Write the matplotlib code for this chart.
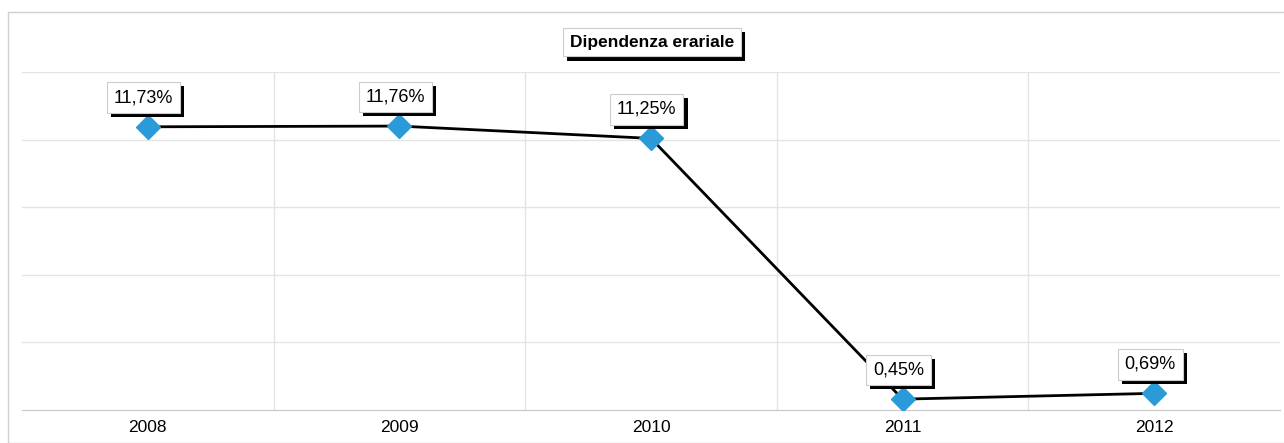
import numpy as np
import matplotlib.pyplot as plt
from matplotlib.patches import Rectangle
import matplotlib.patheffects as pe

plt.rcParams['font.family'] = ['Liberation Sans', 'DejaVu Sans']

anni = ["2008", "2009", "2010", "2011", "2012"]
valori = [11.73, 11.76, 11.25, 0.45, 0.69]
etichette = ["11,73%", "11,76%", "11,25%", "0,45%", "0,69%"]
titolo = "Dipendenza erariale"

fig = plt.figure(figsize=(12.84, 4.43), dpi=100)
# cornice esterna del grafico
fig.patches.append(Rectangle((8/1284, 0), 1.0, 1 - 12/443, transform=fig.transFigure,
                             fill=False, edgecolor="#d0d0d0", linewidth=1))

ax = fig.add_axes([22/1284, 1 - 410/443, 1258/1284, 338/443])
x = np.arange(len(anni))
ax.set_xlim(-0.5, len(anni) - 0.5)
ax.set_ylim(0, 14)

# griglia
for yy in np.arange(2.8, 14.01, 2.8):
    ax.axhline(yy, color="#e4e4e4", linewidth=1, zorder=0)
for xx in np.arange(0.5, len(anni) - 0.5, 1):
    ax.axvline(xx, color="#e4e4e4", linewidth=1, zorder=0)

ax.plot(x, valori, color="black", linewidth=2, zorder=2)
ax.plot(x, valori, linestyle="none", marker="D", markersize=12,
        color="#2a9ad8", markeredgecolor="#2a9ad8", zorder=3)

ombra = [pe.SimplePatchShadow(offset=(3, -3), shadow_rgbFace="black", alpha=1), pe.Normal()]

# etichette dei dati con ombra
for xi, v, lab in zip(x, valori, etichette):
    t = ax.annotate(lab, (xi, v), xytext=(-3, 21), textcoords="offset points",
                    ha="center", va="center", fontsize=13, color="black",
                    bbox=dict(boxstyle="square,pad=0.38", fc="white", ec="#cccccc", lw=0.8),
                    zorder=5, annotation_clip=False)
    t.get_bbox_patch().set_path_effects(ombra)

ax.set_xticks(x)
ax.set_xticklabels(anni, fontsize=12.5)
ax.tick_params(axis="x", length=0, pad=7)
ax.set_yticks([])
for s in ["top", "right", "left"]:
    ax.spines[s].set_visible(False)
ax.spines["bottom"].set_color("#c8c8c8")

# titolo con ombra
tt = fig.text(652/1284, 1 - 42/443, titolo, ha="center", va="center",
              fontsize=12.5, fontweight="bold", color="black",
              bbox=dict(boxstyle="square,pad=0.4", fc="white", ec="#cccccc", lw=0.8))
tt.get_bbox_patch().set_path_effects(ombra)

fig.savefig("out.png", dpi=100)
